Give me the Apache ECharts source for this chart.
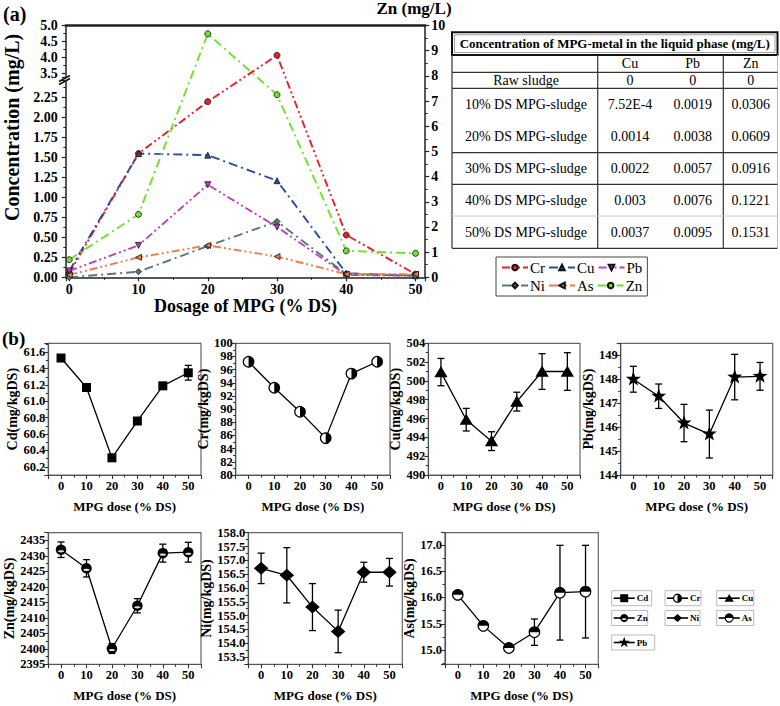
<!DOCTYPE html>
<html><head><meta charset="utf-8">
<script src="https://cdn.jsdelivr.net/npm/echarts@6/dist/echarts.min.js"></script>
<style>html,body{margin:0;padding:0;background:#fff}#c{width:780px;height:706px}</style>
</head><body><div id="c"></div>
<script>
// ================= DATA =================
// Panel (a): MPG-metal concentration in liquid phase vs dosage
const doses = [0, 10, 20, 30, 40, 50];
const aNames = ['Cr', 'Cu', 'Pb', 'Ni', 'As', 'Zn'];
const aCr = [0.05, 1.55, 2.20, 4.07, 0.53, 0.04];
const aCu = [0.08, 1.55, 1.53, 1.21, 0.05, 0.02];
const aPb = [0.08, 0.40, 1.16, 0.63, 0.03, 0.02];
const aNi = [0.00, 0.07, 0.39, 0.70, 0.04, 0.02];
const aAs = [0.03, 0.25, 0.40, 0.26, 0.04, 0.04];
const aZn = [0.70, 2.50, 9.67, 7.25, 1.05, 0.95];   // right axis, Zn (mg/L)
// broken left axis: lower and upper segments
const aLowRange = [0, 2.465];
const aUpRange = [3.39, 5.0];
const aZnRange = [0, 10];

// Table
const tableTitle = 'Concentration of MPG-metal in the liquid phase (mg/L)';
const tableHeads = ['Cu', 'Pb', 'Zn'];
const tableRowNames = ['Raw sludge', '10% DS MPG-sludge', '20% DS MPG-sludge', '30% DS MPG-sludge', '40% DS MPG-sludge', '50% DS MPG-sludge'];
const tableCu = ['0', '7.52E-4', '0.0014', '0.0022', '0.003', '0.0037'];
const tablePb = ['0', '0.0019', '0.0038', '0.0057', '0.0076', '0.0095'];
const tableZn = ['0', '0.0306', '0.0609', '0.0916', '0.1221', '0.1531'];

// Panel (b): metal content in sludge (mg/kgDS) with error bars
const bCd = [61.53, 61.17, 60.31, 60.76, 61.19, 61.35];
const bCdErr = [0.03, 0.04, 0.02, 0.03, 0.04, 0.09];
const bCr = [97.2, 93.25, 89.6, 85.6, 95.4, 97.2];
const bCrErr = [0.3, 0.3, 0.3, 0.3, 0.3, 0.3];
const bCu = [500.94, 495.88, 493.6, 497.8, 501.0, 501.0];
const bCuErr = [1.45, 1.2, 1.0, 1.0, 1.9, 2.0];
const bPb = [148.0, 147.29, 146.17, 145.71, 148.09, 148.12];
const bPbErr = [0.54, 0.51, 0.78, 1.0, 0.95, 0.58];
const bZn = [2432.0, 2426.0, 2400.1, 2413.9, 2430.9, 2431.2];
const bZnErr = [2.5, 2.8, 1.6, 2.3, 2.9, 3.2];
const bNi = [156.71, 156.46, 155.31, 154.43, 156.57, 156.57];
const bNiErr = [0.55, 1.0, 0.85, 0.77, 0.36, 0.5];
const bAs = [16.05, 15.46, 15.04, 15.34, 16.09, 16.11];
const bAsErr = [0.04, 0.04, 0.04, 0.25, 0.9, 0.88];
// y ranges [min, max, label step, decimals]
const bCdAxis = [60.1, 61.71, 0.2, 1];
const bCrAxis = [80, 100, 2, 0];
const bCuAxis = [490, 504, 2, 0];
const bPbAxis = [144, 149.5, 1, 0];
const bZnAxis = [2395, 2437.5, 5, 0];
const bNiAxis = [153.24, 158.0, 0.5, 1];
const bAsAxis = [14.73, 17.23, 0.5, 1];
const bXRange = [-5, 55];

// ================= STYLE / LAYOUT =================
const F = '"Liberation Serif","Times New Roman",serif';
const aColors = {Cr:'#ee1d25', Cu:'#2a4f9e', Pb:'#bf3ebf', Ni:'#557a72', As:'#f27a45', Zn:'#6ee12a'};
const aSymbols = {Cr:['circle',0], Cu:['triangle',0], Pb:['triangle',180], Ni:['diamond',0], As:['triangle',90], Zn:['circle',0]};
const aDash = {Cr:[8,3,2,3,2,3], Cu:[9,4,2,4], Pb:[8,3,2,3,2,3], Ni:[9,4,2,4], As:[8,3,2,3,2,3], Zn:[9,4,2,4]};

const A = {left:65.8, right:425.2, top:25.5, bottom:277.3, lowTop:80.5, upBottom:77};
const aW = A.right - A.left, aH = A.bottom - A.top;
const hLow = A.bottom - A.lowTop, hUp = A.upBottom - A.top;
const sLow = hLow / (aLowRange[1] - aLowRange[0]);
const sUp = hUp / (aUpRange[1] - aUpRange[0]);
// piecewise mapping of a value onto the broken axis (in pixel units of the main grid)
function brk(v) { return v <= aLowRange[1] ? (v - aLowRange[0]) * sLow : aH - (aUpRange[1] - v) * sUp; }

function fmtStep(step, dec) {
  return function (v) { const k = v / step; if (Math.abs(k - Math.round(k)) > 1e-6) return ''; return v.toFixed(dec); };
}
function valAxis(min, max, step, dec, extra) {
  const c = {type:'value', min:min, max:max, splitLine:{show:false}};
  const isMul = Math.abs(min / step - Math.round(min / step)) < 1e-6;
  if (isMul) c.interval = step; else c.splitNumber = Math.round((max - min) / step);
  c.axisLabel = {formatter: fmtStep(step, dec), fontFamily:F, fontWeight:'bold', fontSize:13, color:'#000'};
  return Object.assign(c, extra || {});
}

const grids = [], xAxes = [], yAxes = [], series = [];

// ---- panel (a) grids ----
grids.push({left:A.left, top:A.top, width:aW, height:aH});                 // 0 main (data)
grids.push({left:A.left, top:A.lowTop, width:aW, height:hLow});            // 1 lower left axis
grids.push({left:A.left, top:A.top, width:aW, height:hUp});                // 2 upper left axis
const aLab = {fontFamily:F, fontWeight:'bold', fontSize:14, color:'#000'};
const aLine = {onZero:false, lineStyle:{color:'#222', width:1.5}};
const aTick = {show:true, length:4, lineStyle:{color:'#222', width:1.2}};
const aMinor = {show:true, splitNumber:2, length:2.5, lineStyle:{color:'#222'}};
xAxes.push({gridIndex:0, type:'value', min:-0.5, max:51.4, splitNumber:5, splitLine:{show:false},
  axisLine:aLine, axisTick:aTick, minorTick:aMinor,
  axisLabel:Object.assign({formatter:fmtStep(10,0), margin:5}, aLab),
  name:'Dosage of MPG (% DS)', nameLocation:'middle', nameGap:12,
  nameTextStyle:{fontFamily:F, fontWeight:'bold', fontSize:18, color:'#000', lineHeight:18}});
xAxes.push({gridIndex:1, type:'value', min:-0.5, max:51.4, show:false});
xAxes.push({gridIndex:2, type:'value', min:-0.5, max:51.4, show:false});
xAxes.push({gridIndex:0, type:'value', min:-0.5, max:51.4, position:'top',
  axisLine:{onZero:false, lineStyle:{color:'#222', width:2.5}}, axisTick:{show:false}, axisLabel:{show:false}, splitLine:{show:false}});
// y axes (a)
yAxes.push({gridIndex:0, type:'value', min:0, max:aH, position:'left',
  axisLine:{show:false, onZero:false}, axisTick:{show:false}, axisLabel:{show:false}, splitLine:{show:false},
  name:'Concentration (mg/L)', nameLocation:'middle', nameGap:44,
  nameTextStyle:{fontFamily:F, fontWeight:'bold', fontSize:20, color:'#000', lineHeight:20, padding:[0,0,0,48]}});
yAxes.push(Object.assign(valAxis(aZnRange[0], aZnRange[1], 1, 0), {gridIndex:0, position:'right',
  axisLine:Object.assign({show:true}, aLine), axisTick:aTick, minorTick:aMinor,
  axisLabel:Object.assign({formatter:fmtStep(1,0), margin:6}, aLab)}));
yAxes.push(Object.assign(valAxis(aLowRange[0], aLowRange[1], 0.25, 2), {gridIndex:1, position:'left',
  axisLine:Object.assign({show:true}, aLine), axisTick:aTick, minorTick:aMinor,
  axisLabel:Object.assign({formatter:fmtStep(0.25,2), margin:8}, aLab)}));
yAxes.push(Object.assign(valAxis(aUpRange[0], aUpRange[1], 0.5, 1), {gridIndex:2, position:'left',
  axisLine:Object.assign({show:true}, aLine), axisTick:aTick, minorTick:aMinor,
  axisLabel:Object.assign({formatter:fmtStep(0.5,1), margin:8}, aLab)}));

const aVals = {Cr:aCr, Cu:aCu, Pb:aPb, Ni:aNi, As:aAs, Zn:aZn};
aNames.forEach(function (n) {
  const isZn = n === 'Zn';
  series.push({name:n, type:'line', xAxisIndex:0, yAxisIndex:isZn ? 1 : 0, silent:true,
    data: doses.map(function (d, i) { return [d, isZn ? aVals[n][i] : brk(aVals[n][i])]; }),
    symbol:aSymbols[n][0], symbolRotate:aSymbols[n][1], symbolSize:6,
    lineStyle:{color:aColors[n], width:1.9, type:aDash[n]},
    itemStyle:{color:aColors[n], borderColor:'#111', borderWidth:0.8}, z:3});
});

// ---- panel (b) ----
function markerEls(kind, cx, cy, s) {
  const r = s / 2, K = '#000';
  if (kind === 'square') return [{type:'rect', shape:{x:cx - r, y:cy - r, width:s, height:s}, style:{fill:K}}];
  if (kind === 'triangle') return [{type:'polygon', shape:{points:[[cx, cy - r * 1.05], [cx + r * 1.15, cy + r * 0.9], [cx - r * 1.15, cy + r * 0.9]]}, style:{fill:K}}];
  if (kind === 'diamond') return [{type:'polygon', shape:{points:[[cx, cy - r], [cx + r * 1.12, cy], [cx, cy + r], [cx - r * 1.12, cy]]}, style:{fill:K}}];
  if (kind === 'star') {
    const pts = [];
    for (let i = 0; i < 10; i++) {
      const ang = -Math.PI / 2 + i * Math.PI / 5, rr = i % 2 ? r * 0.42 : r * 1.05;
      pts.push([cx + rr * Math.cos(ang), cy + rr * Math.sin(ang)]);
    }
    return [{type:'polygon', shape:{points:pts}, style:{fill:K}}];
  }
  if (kind === 'halfR' || kind === 'halfT') {
    const sa = kind === 'halfR' ? -Math.PI / 2 : Math.PI, ea = kind === 'halfR' ? Math.PI / 2 : 2 * Math.PI;
    return [{type:'circle', shape:{cx:cx, cy:cy, r:r}, style:{fill:'#fff', stroke:K, lineWidth:1.2}},
            {type:'sector', shape:{cx:cx, cy:cy, r0:0, r:r, startAngle:sa, endAngle:ea, clockwise:true}, style:{fill:K}}];
  }
  if (kind === 'ball') return [{type:'circle', shape:{cx:cx, cy:cy, r:r}, style:{fill:K}},
            {type:'ellipse', shape:{cx:cx, cy:cy + r * 0.3, rx:r * 0.6, ry:r * 0.22}, style:{fill:'#ddd'}}];
  return [];
}
function makeRender(kind, size) {
  return function (params, api) {
    const x = api.value(0), y = api.value(1), e = api.value(2);
    const p = api.coord([x, y]), t = api.coord([x, y + e]), b = api.coord([x, y - e]);
    const st = {stroke:'#000', lineWidth:1.3}, cap = 3.5;
    return {type:'group', children:[
      {type:'line', shape:{x1:p[0], y1:t[1], x2:p[0], y2:b[1]}, style:st},
      {type:'line', shape:{x1:p[0] - cap, y1:t[1], x2:p[0] + cap, y2:t[1]}, style:st},
      {type:'line', shape:{x1:p[0] - cap, y1:b[1], x2:p[0] + cap, y2:b[1]}, style:st}
    ].concat(markerEls(kind, p[0], p[1], size))};
  };
}
const bPanels = [
  {key:'Cd', vals:bCd, errs:bCdErr, ax:bCdAxis, marker:'square', size:9, l:48.3, r:201, t:343.3, b:475, gap:28.5},
  {key:'Cr', vals:bCr, errs:bCrErr, ax:bCrAxis, marker:'halfR', size:10.5, l:235.7, r:390, t:343.3, b:475, gap:23.5},
  {key:'Cu', vals:bCu, errs:bCuErr, ax:bCuAxis, marker:'triangle', size:11.5, l:428.3, r:580, t:343.3, b:475, gap:25},
  {key:'Pb', vals:bPb, errs:bPbErr, ax:bPbAxis, marker:'star', size:15, l:620.7, r:772.7, t:343.3, b:475, gap:24},
  {key:'Zn', vals:bZn, errs:bZnErr, ax:bZnAxis, marker:'ball', size:10.5, l:48.3, r:201, t:532.7, b:664.3, gap:30},
  {key:'Ni', vals:bNi, errs:bNiErr, ax:bNiAxis, marker:'diamond', size:13, l:248.3, r:402.3, t:532.7, b:664.3, gap:33},
  {key:'As', vals:bAs, errs:bAsErr, ax:bAsAxis, marker:'halfT', size:10.5, l:445, r:598.3, t:532.7, b:664.3, gap:26.5}
];
const bLine = {onZero:false, lineStyle:{color:'#555', width:1.2}};
const bLab = {fontFamily:F, fontWeight:'bold', fontSize:12.5, color:'#000'};
const bName = {fontFamily:F, fontWeight:'bold', fontSize:13, color:'#000', lineHeight:13};
bPanels.forEach(function (P) {
  const gi = grids.length;
  grids.push({left:P.l, top:P.t, width:P.r - P.l, height:P.b - P.t, show:true, borderColor:'#666', borderWidth:1.2});
  const xi = xAxes.length, yi = yAxes.length;
  xAxes.push({gridIndex:gi, type:'value', min:bXRange[0], max:bXRange[1], splitNumber:6, splitLine:{show:false},
    axisLine:bLine, axisTick:{length:4, lineStyle:{color:'#333', width:1.1}},
    minorTick:{show:true, splitNumber:2, length:2.5, lineStyle:{color:'#333'}},
    axisLabel:Object.assign({formatter:fmtStep(10,0), margin:4}, bLab),
    name:'MPG dose (% DS)', nameLocation:'middle', nameGap:25, nameTextStyle:bName});
  yAxes.push(valAxis(P.ax[0], P.ax[1], P.ax[2], P.ax[3], {gridIndex:gi,
    axisLine:Object.assign({show:true}, bLine), axisTick:{show:true, length:4, lineStyle:{color:'#333', width:1.1}},
    minorTick:{show:true, splitNumber:2, length:2.5, lineStyle:{color:'#333'}},
    axisLabel:Object.assign({formatter:fmtStep(P.ax[2], P.ax[3]), margin:3}, bLab),
    name:P.key + '(mg/kgDS)', nameLocation:'middle', nameGap:P.gap,
    nameTextStyle:{fontFamily:F, fontWeight:'bold', fontSize:14, lineHeight:14, color:'#000'}}));
  series.push({type:'line', xAxisIndex:xi, yAxisIndex:yi, silent:true, symbol:'none', z:2,
    data:doses.map(function (d, i) { return [d, P.vals[i]]; }), lineStyle:{color:'#000', width:1.3}});
  series.push({type:'custom', xAxisIndex:xi, yAxisIndex:yi, silent:true, z:3,
    data:doses.map(function (d, i) { return [d, P.vals[i], P.errs[i]]; }),
    encode:{x:0, y:1}, renderItem:makeRender(P.marker, P.size)});
});

// ---- graphics: table, labels, break marks, legend (b) ----
const G = [];
function txt(s, x, y, font, align, extra) {
  G.push(Object.assign({type:'text', x:x, y:y, silent:true, style:{text:s, font:font, fill:'#000', align:align || 'center', verticalAlign:'middle'}}, extra || {}));
}
function ln(x1, y1, x2, y2, c, w) { G.push({type:'line', silent:true, shape:{x1:x1, y1:y1, x2:x2, y2:y2}, style:{stroke:c || '#000', lineWidth:w || 1}}); }

txt('(a)', 3, 14, 'bold 20px ' + F, 'left');
txt('(b)', 2, 338, 'bold 19px ' + F, 'left');
// right-axis title (Zn)
txt('Zn (mg/L)', 414, 8.5, 'bold 17px ' + F, 'center');
// broken-axis marks
ln(59, 81.5, 70, 75.5, '#111', 1.5);
ln(59, 84.5, 70, 78.5, '#111', 1.5);

// table
const T = {x0:452, x1:597.7, x2:723.3, x3:777.5, yT:32.3, yH:55, hl:[72.3, 88.3, 152.7, 184.3, 248.3], hlLight:[216],
  headY:63.5, rowY:[80.3, 104.3, 136.3, 168.3, 200.3, 232.3], colX:[526, 630, 692.7, 750.7]};
G.push({type:'rect', silent:true, shape:{x:T.x0, y:T.yT, width:T.x3 - T.x0, height:T.yH - T.yT}, style:{fill:'none', stroke:'#111', lineWidth:2}});
G.push({type:'rect', silent:true, shape:{x:T.x0 + 2.5, y:T.yT + 2.5, width:T.x3 - T.x0 - 5, height:T.yH - T.yT - 5}, style:{fill:'none', stroke:'#777', lineWidth:0.7}});
txt(tableTitle, (T.x0 + T.x3) / 2, (T.yT + T.yH) / 2, 'bold 13px ' + F);
ln(T.x0, T.yH, T.x0, 248.3, '#333', 1.2);
ln(T.x3, T.yH, T.x3, 248.3, '#bbb', 1);
ln(T.x1, T.yH, T.x1, 248.3, '#333', 1.2);
ln(T.x2, T.yH, T.x2, 248.3, '#333', 1.2);
T.hl.forEach(function (y) { ln(T.x0, y, T.x3, y, '#333', 1.2); });
T.hlLight.forEach(function (y) { ln(T.x0, y, T.x3, y, '#c8c8c8', 1); });
const cellFont = '14px ' + F;
tableHeads.forEach(function (h, j) { txt(h, T.colX[j + 1], T.headY, cellFont); });
tableRowNames.forEach(function (nm, i) {
  txt(nm, T.colX[0], T.rowY[i], cellFont);
  txt(tableCu[i], T.colX[1], T.rowY[i], cellFont);
  txt(tablePb[i], T.colX[2], T.rowY[i], cellFont);
  txt(tableZn[i], T.colX[3], T.rowY[i], cellFont);
});

// legend (b)
const bLegend = [
  {key:'Cd', marker:'square', x:611.7, y:590.7, w:40}, {key:'Cr', marker:'halfR', x:665, y:590.7, w:36},
  {key:'Cu', marker:'triangle', x:716.7, y:590.7, w:37}, {key:'Zn', marker:'ball', x:611.7, y:610.5, w:36},
  {key:'Ni', marker:'diamond', x:665, y:610.5, w:35}, {key:'As', marker:'halfT', x:716.7, y:610.5, w:37},
  {key:'Pb', marker:'star', x:611.7, y:635, w:43}
];
bLegend.forEach(function (L) {
  const yc = L.y + 7.5;
  G.push({type:'rect', silent:true, shape:{x:L.x, y:L.y, width:L.w, height:15}, style:{fill:'none', stroke:'#bbb', lineWidth:1}});
  ln(L.x + 2, yc, L.x + 23, yc, '#000', 1.6);
  markerEls(L.marker, L.x + 12.5, yc, L.marker === 'star' ? 11 : 8).forEach(function (el) { el.silent = true; G.push(el); });
  txt(L.key, L.x + 25, yc, 'bold 9px ' + F, 'left');
});

const option = {
  animation:false,
  backgroundColor:'#fff',
  grid:grids, xAxis:xAxes, yAxis:yAxes, series:series,
  legend:{data:aNames, left:496, top:257, width:152, itemWidth:26, itemHeight:7, itemGap:3,
    padding:[3,5,3,5], borderColor:'#444', borderWidth:1, selectedMode:false,
    textStyle:{fontFamily:F, fontSize:15, color:'#000', padding:[0,0,0,-3]}},
  graphic:{elements:G}
};
const chart = echarts.init(document.getElementById('c'), null, {renderer:'svg'});
chart.setOption(option);
</script></body></html>
